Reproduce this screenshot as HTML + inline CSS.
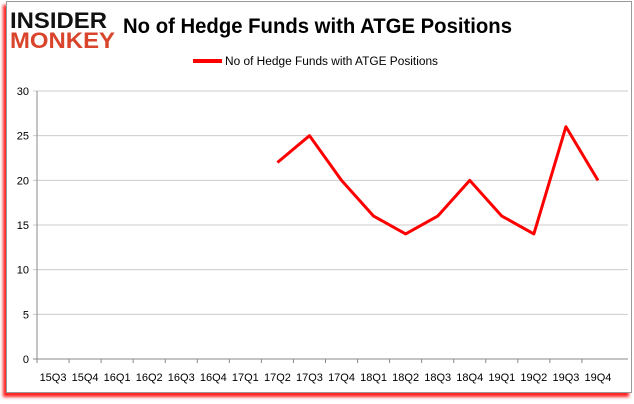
<!DOCTYPE html>
<html><head><meta charset="utf-8"><style>
body{margin:0;background:#fff;width:634px;height:404px;overflow:hidden;font-family:"Liberation Sans",sans-serif}
#frame{position:absolute;left:6px;top:1px;width:624px;height:390px;border:1px solid #999;background:#fff;box-shadow:-3px 4px 3px #f22}
</style></head><body>
<div id="frame"></div>
<svg width="634" height="404" style="position:absolute;left:0;top:0">
<g font-weight="bold" font-family="Liberation Sans,sans-serif">
<text x="10" y="28" font-size="22" fill="#111" textLength="97" lengthAdjust="spacingAndGlyphs">INSIDER</text>
<text x="10" y="48" font-size="22" fill="#d9452c" textLength="105" lengthAdjust="spacingAndGlyphs">MONKEY</text>
</g>
<text x="123" y="33" font-size="21" font-weight="bold" fill="#000" textLength="389" lengthAdjust="spacingAndGlyphs">No of Hedge Funds with ATGE Positions</text>
<g>
<line x1="193" y1="61" x2="222" y2="61" stroke="#f00" stroke-width="4"/>
<text x="225" y="65" font-size="11.5" fill="#000" textLength="213" lengthAdjust="spacingAndGlyphs">No of Hedge Funds with ATGE Positions</text>
</g>
<g id="axes"></g>
<polyline id="series" fill="none" stroke="#f00" stroke-width="3" stroke-linejoin="round"/>
</svg>
<script>
const categories=["15Q3","15Q4","16Q1","16Q2","16Q3","16Q4","17Q1","17Q2","17Q3","17Q4","18Q1","18Q2","18Q3","18Q4","19Q1","19Q2","19Q3","19Q4"];
const values=[null,null,null,null,null,null,null,22,25,20,16,14,16,20,16,14,26,20];
const yTicks=[0,5,10,15,20,25,30];
const L=37,R=614,GR=628,T=91,B=359,ymax=30;
const step=(R-L)/categories.length;
const x=i=>L+step*(i+0.5);
const y=v=>B-(v/ymax)*(B-T);
const ns="http://www.w3.org/2000/svg";
const g=document.getElementById('axes');
function mk(t,a){const e=document.createElementNS(ns,t);for(const k in a)e.setAttribute(k,a[k]);g.appendChild(e);return e;}
yTicks.forEach(v=>{
 const ln=mk('line',{x1:L-4,x2:GR,y1:y(v),y2:y(v),stroke:v===0?'#888':'#ccc'});
 
 
 const t=mk('text',{x:L-8,y:y(v)+4,'font-size':11,'text-anchor':'end',fill:'#000'});
 t.textContent=v;
 
 
});
const ax=mk('line',{x1:L,x2:L,y1:T,y2:B,stroke:'#888'});


categories.forEach((c,i)=>{
 const tk=mk('line',{x1:L+step*i,x2:L+step*i,y1:B,y2:B+4,stroke:'#888'});
 
 
 const t=mk('text',{x:x(i),y:B+22,'font-size':11,'text-anchor':'middle',fill:'#000'});
 t.textContent=c;
 
 
});
const pts=[];values.forEach((v,i)=>{if(v!==null)pts.push(x(i)+','+y(v));});
document.getElementById('series').setAttribute('points',pts.join(' '));
</script>
</body></html>
